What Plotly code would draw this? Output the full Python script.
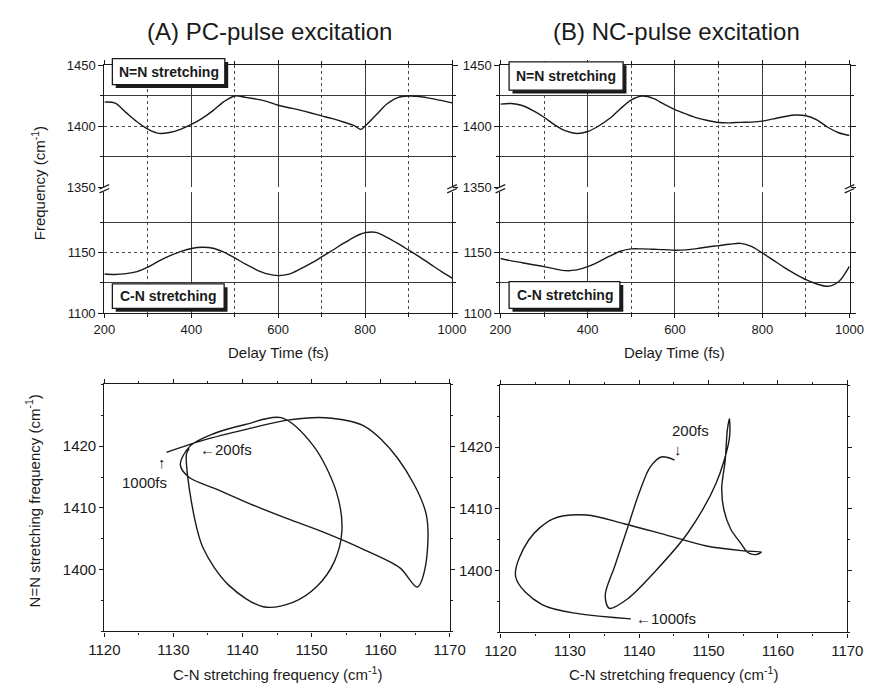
import plotly.graph_objects as go

# ---------------- data ----------------
time_a = [200, 225, 250, 275, 300, 325, 350, 375, 400, 425, 450, 475, 500, 525, 550, 575,
          600, 625, 650, 675, 700, 725, 750, 775, 790, 800, 825, 850, 875, 900, 925, 950, 975, 1000]
pc_nn = [1419.6, 1418.8, 1411.0, 1403.5, 1397.5, 1394.0, 1394.7, 1397.3, 1401.3, 1406.3, 1412.6, 1420.0,
         1424.6, 1423.5, 1422.0, 1420.0, 1417.0, 1415.0, 1413.0, 1410.7, 1408.3, 1406.0, 1403.3, 1400.3,
         1397.2, 1400.0, 1409.0, 1418.0, 1423.3, 1424.6, 1424.2, 1422.7, 1421.0, 1419.0]
pc_cn = [1132.3, 1131.9, 1132.6, 1134.3, 1138.0, 1143.0, 1147.3, 1150.8, 1153.3, 1154.4, 1153.6, 1150.3,
         1145.6, 1140.4, 1135.8, 1132.4, 1131.0, 1132.2, 1136.3, 1141.0, 1146.4, 1151.9, 1157.5, 1162.8,
         1165.3, 1166.4, 1166.6, 1162.5, 1157.5, 1152.0, 1146.5, 1140.5, 1134.5, 1129.0]

time_b = [200, 225, 250, 275, 300, 325, 350, 375, 400, 425, 450, 475, 500, 525, 550, 575,
          600, 625, 650, 675, 700, 725, 750, 775, 800, 825, 850, 875, 900, 925, 950, 975, 1000]
nc_nn = [1417.9, 1418.4, 1416.8, 1412.6, 1407.2, 1400.8, 1396.0, 1393.9, 1395.5, 1400.0, 1406.1, 1414.2,
         1421.4, 1424.6, 1422.7, 1417.9, 1413.4, 1409.9, 1406.7, 1404.5, 1402.9, 1402.6, 1403.0, 1403.2,
         1404.0, 1405.8, 1407.6, 1409.0, 1408.4, 1405.0, 1399.0, 1394.5, 1392.2]
nc_cn = [1145.1, 1143.2, 1141.6, 1140.0, 1138.4, 1136.5, 1135.1, 1135.7, 1138.4, 1142.4, 1147.0, 1151.1,
         1153.0, 1153.0, 1152.7, 1152.4, 1151.9, 1152.2, 1153.2, 1154.6, 1155.7, 1156.8, 1157.6, 1155.1,
         1149.7, 1143.8, 1137.8, 1132.4, 1127.6, 1124.1, 1122.2, 1126.0, 1138.8]

time_ticks = [200, 400, 600, 800, 1000]
upper_ticks = [1350, 1400, 1450]
lower_ticks = [1100, 1150]
cn_ticks = [1120, 1130, 1140, 1150, 1160, 1170]
nn_ticks = [1400, 1410, 1420]

# ---------------- layout helpers ----------------
W, H = 880, 692
def px(x): return x / W
def py(y): return 1 - y / H

FONT = "Liberation Sans, Arial, sans-serif"
INK = "#1a1a1a"
LINE = dict(color=INK, width=1.4, shape="spline", smoothing=0.9)

TL_X = [px(91.7), px(452.5)]
TR_X = [px(502.7), px(865)]
UP_Y = [py(184), py(59.3)]
LO_Y = [py(313), py(189)]
BL_X, BL_Y = [px(91.7), px(450)], [py(638.3), py(385.7)]
BR_X, BR_Y = [px(502.7), px(862.7)], [py(639.3), py(386.7)]

fig = go.Figure()
fig.add_trace(go.Scatter(x=time_a, y=pc_cn, xaxis="x", yaxis="y", mode="lines", line=LINE))
fig.add_trace(go.Scatter(x=time_a, y=pc_nn, xaxis="x2", yaxis="y2", mode="lines", line=LINE))
fig.add_trace(go.Scatter(x=time_b, y=nc_cn, xaxis="x3", yaxis="y3", mode="lines", line=LINE))
fig.add_trace(go.Scatter(x=time_b, y=nc_nn, xaxis="x4", yaxis="y4", mode="lines", line=LINE))
fig.add_trace(go.Scatter(x=pc_cn, y=pc_nn, xaxis="x5", yaxis="y5", mode="lines", line=LINE))
fig.add_trace(go.Scatter(x=nc_cn, y=nc_nn, xaxis="x6", yaxis="y6", mode="lines", line=LINE))

GRID_SOLID = dict(gridcolor="#3a3a3a", gridwidth=1, griddash="solid")
GRID_DOT = dict(gridcolor="#4a4a4a", gridwidth=1, griddash="dot")

def time_axis(domain, anchor, top=False, labels=True, match=None):
    d = dict(domain=domain, anchor=anchor, range=[200, 1000], tickvals=time_ticks,
             showticklabels=labels, ticks="outside", ticklen=4, tickcolor=INK,
             showline=True, linecolor=INK, linewidth=1.3, zeroline=False,
             showgrid=True, **GRID_SOLID,
             tickfont=dict(family=FONT, size=13, color=INK),
             minor=dict(tickvals=[300, 500, 700, 900], ticks="outside", ticklen=3, tickcolor=INK,
                        showgrid=True, gridcolor="#4a4a4a", gridwidth=1, griddash="dot"))
    if top:
        d["side"] = "top"
    if match:
        d["matches"] = match
    return d

def freq_axis(domain, anchor, rng, tv, minor_tv):
    return dict(domain=domain, anchor=anchor, range=rng, tickvals=tv,
                ticks="outside", ticklen=5, tickcolor=INK,
                showline=True, linecolor=INK, linewidth=1.3, mirror="ticks", zeroline=False,
                showgrid=True, **GRID_DOT,
                tickfont=dict(family=FONT, size=13, color=INK),
                minor=dict(tickvals=minor_tv, ticks="outside", ticklen=3, tickcolor=INK,
                           showgrid=True, gridcolor="#3a3a3a", gridwidth=1, griddash="solid"))

def lis_x(domain, anchor):
    return dict(domain=domain, anchor=anchor, range=[1120, 1170], tickvals=cn_ticks,
                ticks="outside", ticklen=4, tickcolor=INK, showgrid=False, zeroline=False,
                showline=True, linecolor=INK, linewidth=1.3, mirror="ticks",
                tickfont=dict(family=FONT, size=15, color=INK),
                minor=dict(dtick=5, ticks="outside", ticklen=2, tickcolor=INK))

def lis_y(domain, anchor):
    return dict(domain=domain, anchor=anchor, range=[1390, 1430], tickvals=nn_ticks,
                ticks="outside", ticklen=4, tickcolor=INK, showgrid=False, zeroline=False,
                showline=True, linecolor=INK, linewidth=1.3, mirror="ticks",
                tickfont=dict(family=FONT, size=15, color=INK),
                minor=dict(dtick=5, ticks="outside", ticklen=2, tickcolor=INK))

fig.update_layout(
    width=W, height=H, margin=dict(l=0, r=0, t=0, b=0),
    paper_bgcolor="white", plot_bgcolor="white", showlegend=False,
    font=dict(family=FONT, color=INK),
    xaxis=time_axis(TL_X, "y"),
    xaxis2=time_axis(TL_X, "y2", top=True, labels=False, match="x"),
    yaxis=freq_axis(LO_Y, "x", [1100, 1200], lower_ticks, [1125, 1175]),
    yaxis2=freq_axis(UP_Y, "x2", [1350, 1450], upper_ticks, [1375, 1425]),
    xaxis3=time_axis(TR_X, "y3"),
    xaxis4=time_axis(TR_X, "y4", top=True, labels=False, match="x3"),
    yaxis3=freq_axis(LO_Y, "x3", [1100, 1200], lower_ticks, [1125, 1175]),
    yaxis4=freq_axis(UP_Y, "x4", [1350, 1450], upper_ticks, [1375, 1425]),
    xaxis5=lis_x(BL_X, "y5"), yaxis5=lis_y(BL_Y, "x5"),
    xaxis6=lis_x(BR_X, "y6"), yaxis6=lis_y(BR_Y, "x6"),
)

shapes = []
# axis break marks
for xb in [91.7, 452.5, 502.7, 865]:
    for dy in [0, 4]:
        shapes.append(dict(type="line", xref="paper", yref="paper",
                           x0=px(xb - 5), y0=py(186 + dy), x1=px(xb + 5), y1=py(181.5 + dy),
                           line=dict(color=INK, width=1.3)))
# label boxes with shadow
boxes = [(100, 52.7, 216.7, 79.3, "N=N stretching"),
         (100, 283, 216, 308, "C-N stretching"),
         (511.7, 56, 630, 85, "N=N stretching"),
         (511.7, 280.7, 626.7, 308, "C-N stretching")]
annotations = []
for (x0, y0, x1, y1, txt) in boxes:
    shapes.append(dict(type="rect", xref="paper", yref="paper",
                       x0=px(x0 + 3.5), y0=py(y1 + 3.5), x1=px(x1 + 3.5), y1=py(y0 + 3.5),
                       fillcolor=INK, line=dict(width=0), layer="above"))
    shapes.append(dict(type="rect", xref="paper", yref="paper",
                       x0=px(x0), y0=py(y1), x1=px(x1), y1=py(y0),
                       fillcolor="white", line=dict(color=INK, width=1.3), layer="above"))
    annotations.append(dict(text=txt, xref="paper", yref="paper",
                            x=px((x0 + x1) / 2), y=py((y0 + y1) / 2), showarrow=False,
                            xanchor="center", yanchor="middle",
                            font=dict(family=FONT, size=14, color=INK, weight="bold")))

def ann(text, x, y, size=14, angle=0, xanchor="center"):
    annotations.append(dict(text=text, xref="paper", yref="paper", x=px(x), y=py(y),
                            showarrow=False, textangle=angle, xanchor=xanchor, yanchor="middle",
                            font=dict(family=FONT, size=size, color=INK)))

ann("(A) PC-pulse excitation", 263, 25, size=24)
ann("(B) NC-pulse excitation", 685, 25, size=24)
ann("Delay Time (fs)", 272, 353, size=15)
ann("Delay Time (fs)", 683, 353, size=15)
ann("Frequency (cm<sup>-1</sup>)", 23, 180, size=15, angle=-90)
ann("N=N stretching frequency (cm<sup>-1</sup>)", 17, 505, size=15, angle=-90)
ann("C-N stretching frequency (cm<sup>-1</sup>)", 271, 681, size=15)
ann("C-N stretching frequency (cm<sup>-1</sup>)", 682, 681, size=15)

def dann(text, x, y, xr, yr, xanchor="left", size=15):
    annotations.append(dict(text=text, xref=xr, yref=yr, x=x, y=y, showarrow=False,
                            xanchor=xanchor, yanchor="middle",
                            font=dict(family=FONT, size=size, color=INK)))

dann("←200fs", 1133.5, 1419.5, "x5", "y5")
dann("↑", 1128.4, 1417.4, "x5", "y5", xanchor="center")
dann("1000fs", 1125.8, 1414.1, "x5", "y5", xanchor="center")
dann("200fs", 1147.4, 1422.7, "x6", "y6", xanchor="center")
dann("↓", 1145.6, 1419.6, "x6", "y6", xanchor="center")
dann("←1000fs", 1139.2, 1392.2, "x6", "y6")

fig.update_layout(shapes=shapes, annotations=annotations)
fig.write_html("out.html")
